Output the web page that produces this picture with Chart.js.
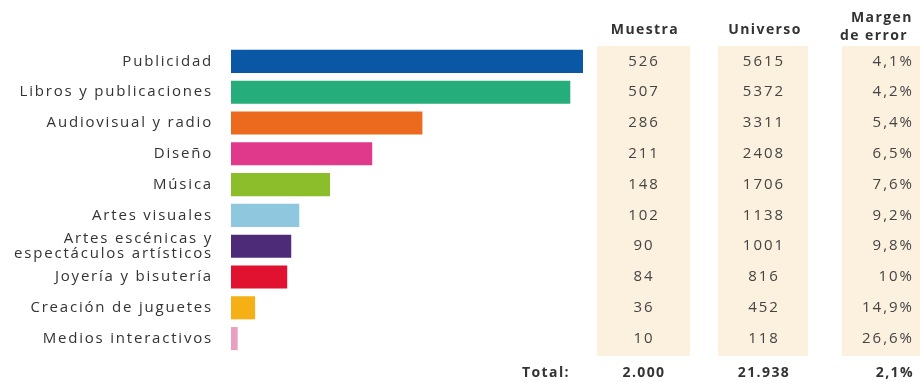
<!DOCTYPE html>
<html>
<head>
<meta charset="utf-8">
<script src="https://cdn.jsdelivr.net/npm/chart.js@4.4.1/dist/chart.umd.min.js"></script>
<style>
  html, body { margin: 0; padding: 0; background: #fff; }
  #wrap { width: 920px; height: 383px; position: relative; }
</style>
</head>
<body>
<div id="wrap"><canvas id="bar_chart"></canvas></div>
<script>
// datos
var categorias = ["Publicidad", "Libros y publicaciones", "Audiovisual y radio", "Diseño", "Música",
    "Artes visuales", ["Artes escénicas y", "espectáculos artísticos"], "Joyería y bisutería",
    "Creación de juguetes", "Medios interactivos"];
var muestra = [526, 507, 286, 211, 148, 102, 90, 84, 36, 10];
var universo = ["5615", "5372", "3311", "2408", "1706", "1138", "1001", "816", "452", "118"];
var margen = ["4,1%", "4,2%", "5,4%", "6,5%", "7,6%", "9,2%", "9,8%", "10%", "14,9%", "26,6%"];
var totales = ["Total:", "2.000", "21.938", "2,1%"];
var colores = ["#0a58a5", "#25ad7b", "#ec6a1e", "#e0398c", "#8cbe2b",
    "#8fc7df", "#4e2b79", "#e1122f", "#f5b015", "#e9a1c2"];

var FONT = "'Open Sans', sans-serif";
var SPACING = "1.8px";

// tabla de la derecha, usando las posiciones de la escala y
var tablaPlugin = {
    id: 'tabla',
    beforeDraw: function (chart) {
        var ctx = chart.ctx;
        var area = chart.chartArea;
        ctx.save();
        ctx.fillStyle = "#fcf0de";
        ctx.fillRect(597, area.top, 93, area.bottom - area.top + 2);
        ctx.fillRect(718, area.top, 90, area.bottom - area.top + 2);
        ctx.fillRect(842, area.top, 80, area.bottom - area.top + 2);
        ctx.restore();
        ctx.letterSpacing = SPACING;
    },
    afterDraw: function (chart) {
        var ctx = chart.ctx;
        var y = chart.scales.y;
        ctx.save();
        ctx.letterSpacing = "1.4px";
        ctx.textBaseline = "middle";
        ctx.fillStyle = "#333";
        ctx.font = "bold 14px " + FONT;
        ctx.textAlign = "center";
        ctx.fillText("Muestra", 645, 30);
        ctx.fillText("Universo", 765, 30);
        ctx.textAlign = "left";
        ctx.fillText("Margen", 851, 18);
        ctx.fillText("de error", 840, 36);

        ctx.letterSpacing = "2px";
        ctx.font = "500 15px " + FONT;
        ctx.fillStyle = "#444";
        for (var i = 0; i < muestra.length; i++) {
            var py = y.getPixelForValue(i);
            ctx.textAlign = "center";
            ctx.fillText(String(muestra[i]), 644, py);
            ctx.fillText(universo[i], 764, py);
            ctx.textAlign = "right";
            ctx.fillText(margen[i], 914, py);
        }

        ctx.font = "bold 14px " + FONT;
        ctx.letterSpacing = "1.4px";
        ctx.fillStyle = "#333";
        ctx.textAlign = "right";
        ctx.fillText(totales[0], 570, 373);
        ctx.textAlign = "center";
        ctx.fillText(totales[1], 644, 373);
        ctx.fillText(totales[2], 764, 373);
        ctx.textAlign = "right";
        ctx.fillText(totales[3], 914, 373);
        ctx.restore();
    }
};

new Chart(document.getElementById("bar_chart").getContext("2d"), {
    type: 'bar',
    data: {
        labels: categorias,
        datasets: [{
            data: muestra,
            backgroundColor: colores,
            borderWidth: 0,
            barPercentage: 0.75,
            categoryPercentage: 1
        }]
    },
    options: {
        indexAxis: 'y',
        responsive: true,
        maintainAspectRatio: false,
        animation: false,
        layout: { padding: { top: 46, bottom: 29, right: 337, left: 0 } },
        plugins: { legend: { display: false }, tooltip: { enabled: false } },
        scales: {
            x: { display: false, min: 0, max: 526 },
            y: {
                grid: { display: false },
                border: { display: false },
                ticks: {
                    autoSkip: false,
                    color: "#333",
                    padding: 10,
                    font: { family: FONT, size: 15, weight: 500, lineHeight: 1.05 }
                },
                afterFit: function (scale) { scale.width = 231; }
            }
        }
    },
    plugins: [tablaPlugin]
});
</script>
</body>
</html>
